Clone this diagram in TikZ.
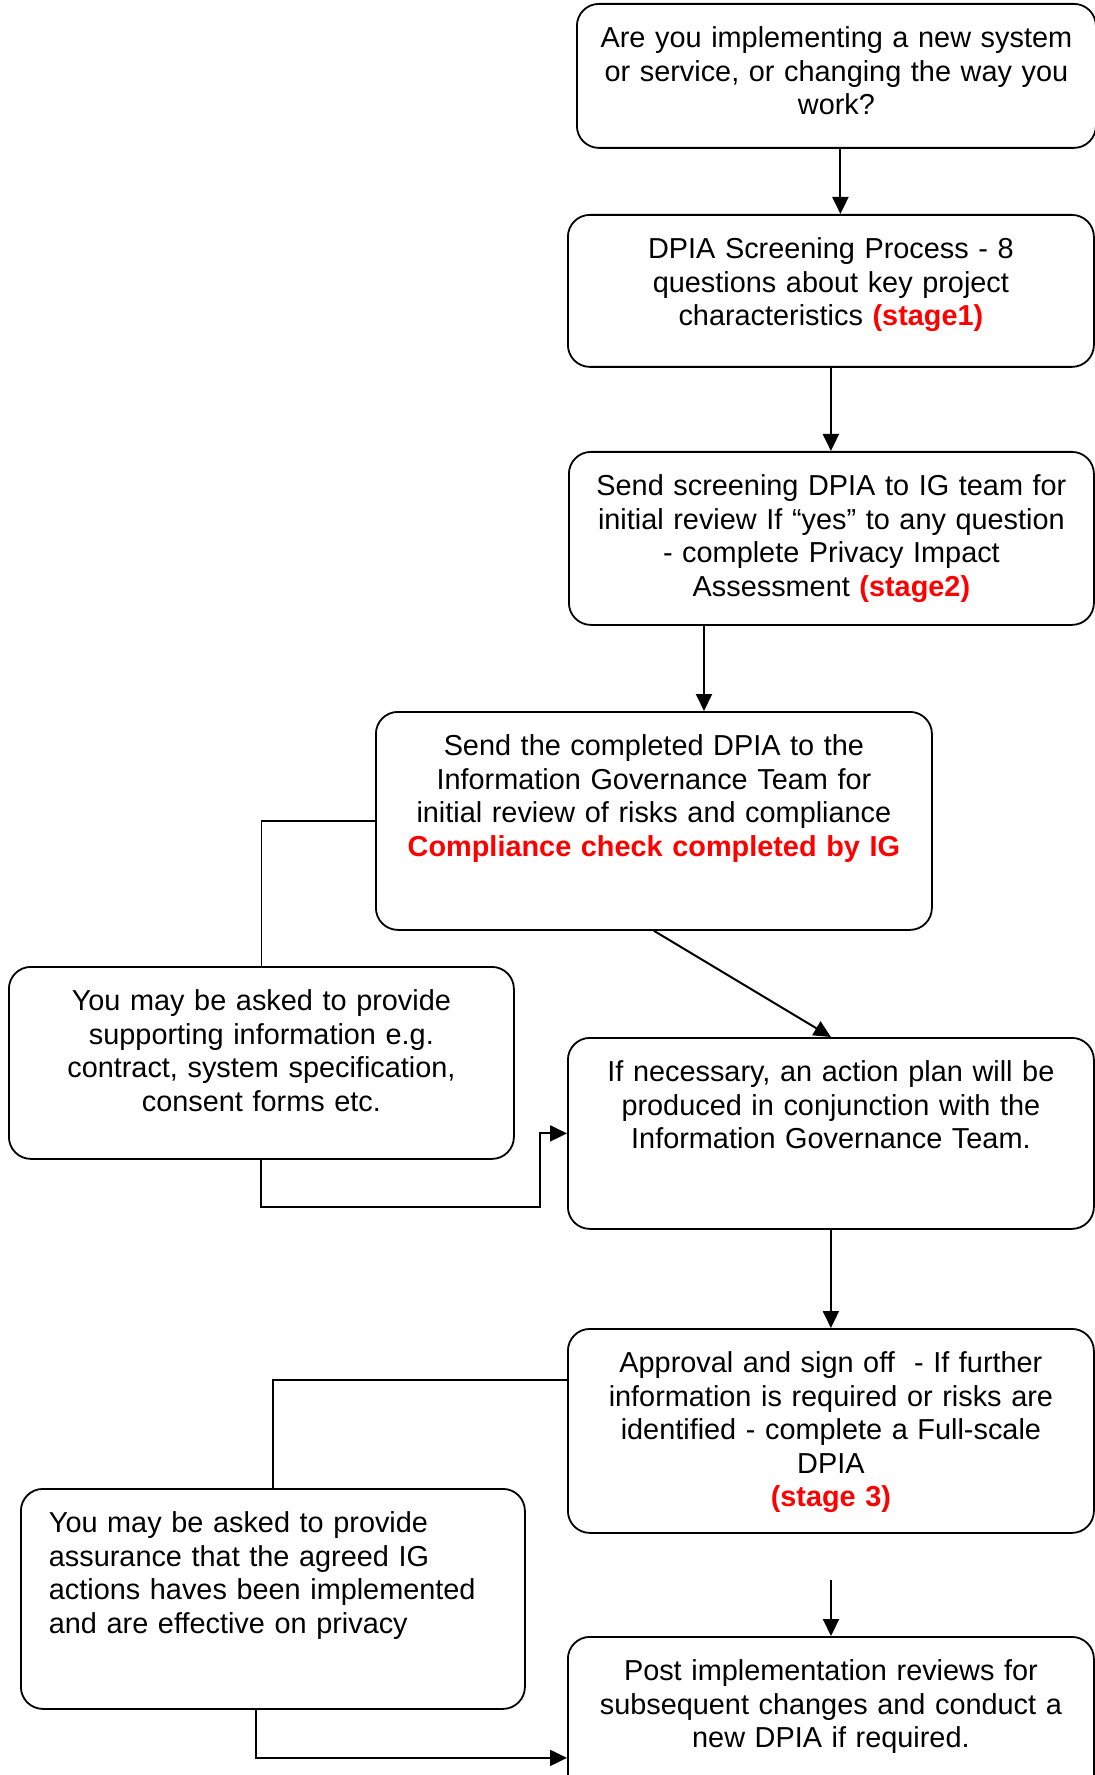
\documentclass[tikz,border=0pt]{standalone}
\usepackage{fontspec}
\setmainfont{Liberation Sans}
\usetikzlibrary{arrows.meta}

\begin{document}
\begin{tikzpicture}
[
x=0.5pt, y=-0.5pt,
stepbox/.style={draw, rounded corners=11pt, line width=0.9pt, align=center,
  inner xsep=5pt, inner ysep=11.5pt, text height=10.5pt, anchor=north west,
  font=\fontsize{14.43}{16.75}\selectfont},
arr/.style={-{Triangle[length=8.5pt,width=8pt]}, line width=1pt},
link/.style={line width=0.7pt}
]
\useasboundingbox (0,0) rectangle (1095,1775);

% main column
\node[stepbox, text width=249.5pt, text depth=38.5pt] (q) at (576,3)
{Are you implementing a new system\\ or service, or changing the way you\\ work?};
\node[stepbox, text width=253pt, text depth=42.5pt] (scr) at (567,214)
{DPIA Screening Process - 8\\ questions about key project\\ characteristics {\color{red}\bfseries (stage1)}};
\node[stepbox, text width=252.5pt, text depth=53pt] (rev) at (568,451)
{Send screening DPIA to IG team for\\ initial review If “yes” to any question\\ - complete Privacy Impact\\ Assessment {\color{red}\bfseries (stage2)}};
\node[stepbox, text width=268pt, text depth=75.5pt] (chk) at (375,711)
{Send the completed DPIA to the\\ Information Governance Team for\\ initial review of risks and compliance\\ {\color{red}\bfseries Compliance check completed by IG}};
\node[stepbox, text width=242.5pt, text depth=62.5pt] (sup) at (8,966)
{You may be asked to provide\\ supporting information e.g.\\ contract, system specification,\\ consent forms etc.};
\node[stepbox, text width=253pt, text depth=62pt] (act) at (567,1037)
{If necessary, an action plan will be\\ produced in conjunction with the\\ Information Governance Team.};
\node[stepbox, text width=253pt, text depth=68.5pt] (app) at (567,1328)
{Approval and sign off\ \ - If further\\ information is required or risks are\\ identified - complete a Full-scale\\ DPIA\\ {\color{red}\bfseries (stage 3)}};
\node[stepbox, align=left, inner xsep=14pt, text width=224pt, text depth=76.5pt] (ass) at (20,1488)
{You may be asked to provide\\ assurance that the agreed IG\\ actions haves been implemented\\ and are effective on privacy};
\node[stepbox, text width=253pt, text depth=87.5pt] (post) at (567,1636)
{Post implementation reviews for\\ subsequent changes and conduct a\\ new DPIA if required.};

% connectors
\draw[arr] ([xshift=2pt]q.south) -- ([xshift=2pt]q.south |- scr.north);
\draw[arr] (scr.south) -- (scr.south |- rev.north);
\draw[arr] (704,0 |- rev.south) -- (704,0 |- chk.north);
\draw[arr] (chk.south) -- (act.north);
\draw[link] (chk.west) -| (sup.north);
\coordinate (jog) at (540,1207);
\draw[arr] (sup.south) |- (jog) |- (act.west);
\draw[arr] (act.south) -- (app.north);
\draw[link] ([yshift=25.5pt]app.west) -| (ass.north);
\coordinate (gap) at (831,1580);
\draw[arr] (gap) -- (gap |- post.north);
\draw[arr] ([xshift=-8.5pt]ass.south) |- (post.west);
\end{tikzpicture}
\end{document}
